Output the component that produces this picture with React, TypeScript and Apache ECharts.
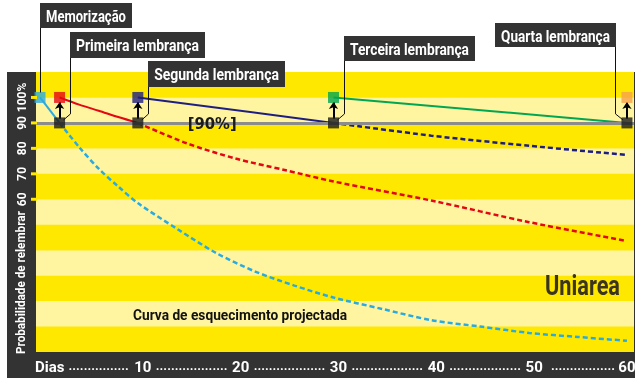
import React, { useEffect, useRef } from 'react';
import * as echarts from 'echarts';

const FONT = 'Roboto, "DejaVu Sans Condensed", sans-serif';
const YELLOW = '#FFE800';
const LIGHT_YELLOW = '#FFF4A0';
const DARK = '#333333';

// ---- data ----
const cyanSolidDays = [0, 2];
const cyanSolidValues = [100, 90];
const cyanDashDays = [2, 4, 6, 8, 10, 14, 18, 22, 26, 30, 35, 40, 45, 50, 55, 60];
const cyanDashValues = [90, 80.5, 72, 65, 58.5, 48.4, 38.9, 31.6, 26.1, 21.4, 16.9, 12.5, 10, 7.5, 5.9, 4.4];
const redSolidDays = [2, 4, 6, 8, 10];
const redSolidValues = [100, 97.2, 94.8, 92.3, 90];
const redDashDays = [10, 15, 20, 25, 30, 40, 50, 60];
const redDashValues = [90, 82, 76, 71.5, 67, 59.5, 51, 43.6];
const navySolidDays = [10, 30];
const navySolidValues = [100, 90];
const navyDashDays = [30, 40, 50, 60];
const navyDashValues = [90, 85, 81, 77.4];
const greenSolidDays = [30, 60];
const greenSolidValues = [100, 90];

const reviewDays = [0, 2, 10, 30, 60];
const reviewLevel = 100;
const reviewColors = ['#29ABE2', '#E30613', '#1E1E82', '#00A651', '#F7A04A'];
const thresholdDays = [2, 10, 30, 60];
const threshold = 90;
const calloutNames = ['Memorização', 'Primeira lembrança', 'Segunda lembrança', 'Terceira lembrança', 'Quarta lembrança'];
const thresholdLabel = '[90%]';
const curveCaption = 'Curva de esquecimento projectada';
const brand = 'Uniarea';

const xTickValues = [10, 20, 30, 40, 50, 60];
const xTitle = 'Dias';
const xTitleAt = 1;
const yTickValues = [60, 70, 80, 90, 100];
const yTitle = 'Probabilidade de relembrar';

// ---- layout of callout boxes (pixels) ----
const calloutBoxes = [
  { x: 40, y: 3, w: 92, h: 25, side: 'left' },
  { x: 70, y: 32, w: 135, h: 26, side: 'left' },
  { x: 148, y: 61, w: 137, h: 26, side: 'left' },
  { x: 344, y: 36, w: 131, h: 25, side: 'left' },
  { x: 495, y: 23, w: 121, h: 24, side: 'right' },
];

const pair = (xs: number[], ys: number[]) => xs.map((x, i) => [x, ys[i]]);

let measureCtx: CanvasRenderingContext2D | null = null;
const measure = (text: string, font: string) => {
  if (!measureCtx) measureCtx = document.createElement('canvas').getContext('2d');
  measureCtx!.font = font;
  return measureCtx!.measureText(text).width || 1;
};

export default function App() {
  const ref = useRef<HTMLDivElement>(null);
  useEffect(() => {
    const el = ref.current!;
    const chart = echarts.init(el, null, { renderer: 'svg' });

    const dotsAt: number[] = xTickValues.map((v, i) => ((i === 0 ? xTitleAt : xTickValues[i - 1]) + v) / 2 + 0.5);
    const dotCounts = [16, 19, 19, 19, 19, 17];

    const line = (xs: number[], ys: number[], color: string, dashed: boolean, smooth: number | boolean = false) => ({
      type: 'line',
      data: pair(xs, ys),
      symbol: 'none',
      smooth,
      silent: true,
      z: 3,
      lineStyle: { color, width: dashed ? 2.5 : 2, type: dashed ? [5, 3] : 'solid' },
    });

    const lbl = { color: '#fff', fontSize: 15, fontWeight: 'bold', fontFamily: FONT };
    const option: any = {
      animation: false,
      grid: { left: 36, right: 7, top: 72, bottom: 38, containLabel: false, outerBoundsMode: 'none' },
      xAxis: {
        type: 'value',
        min: -0.41,
        max: 60.72,
        axisLine: { show: false },
        axisTick: { show: false },
        splitLine: { show: false },
        axisLabel: {
          customValues: [xTitleAt, ...xTickValues, ...dotsAt].sort((a, b) => a - b),
          showMinLabel: true,
          showMaxLabel: true,
          hideOverlap: false,
          margin: 7,
          formatter: (v: number) => {
            if (v === xTitleAt) return `{t|${xTitle}}`;
            if (xTickValues.includes(v)) return v === 60 ? `{n|${v}}` : `{s|${v}}`;
            const i = dotsAt.indexOf(v);
            return `{d|${'.'.repeat(dotCounts[i] || 19)}}`;
          },
          rich: {
            t: { ...lbl },
            n: { ...lbl },
            s: { ...lbl, padding: [0, 0, 0, 10] },
            d: { ...lbl, fontSize: 13 },
          },
        },
      },
      yAxis: {
        type: 'value',
        min: 0,
        max: 110,
        interval: 10,
        axisLine: { show: false },
        splitLine: { show: false },
        splitArea: { show: true, areaStyle: { color: [YELLOW, LIGHT_YELLOW] } },
        axisTick: { show: false },
        axisLabel: {
          customValues: yTickValues,
          rotate: 90,
          margin: 8,
          color: '#fff',
          fontSize: 12,
          fontWeight: 'bold',
          fontFamily: FONT,
          formatter: (v: number) => (v === 100 ? `${v}%` : `${v}`),
        },
      },
      series: [
        {
          type: 'line',
          data: [],
          z: 1,
          silent: true,
          markLine: {
            silent: true,
            symbol: 'none',
            label: { show: false },
            lineStyle: { color: '#8C8C8C', width: 3, type: 'solid' },
            data: [{ yAxis: threshold }],
          },
        },
        line(cyanSolidDays, cyanSolidValues, reviewColors[0], false),
        line(cyanDashDays, cyanDashValues, reviewColors[0], true, 0.3),
        line(redSolidDays, redSolidValues, reviewColors[1], false, 0.3),
        line(redDashDays, redDashValues, reviewColors[1], true, 0.3),
        line(navySolidDays, navySolidValues, reviewColors[2], false),
        line(navyDashDays, navyDashValues, reviewColors[2], true, 0.3),
        line(greenSolidDays, greenSolidValues, reviewColors[3], false),
        {
          type: 'scatter',
          symbol: 'rect',
          symbolSize: 11,
          z: 5,
          silent: true,
          data: thresholdDays.map((d) => [d, threshold]),
          itemStyle: { color: '#1A1A1A' },
          markLine: {
            silent: true,
            symbol: ['none', 'arrow'],
            symbolSize: 7,
            label: { show: false },
            lineStyle: { color: '#000', width: 2, type: 'solid' },
            data: thresholdDays.map((d) => [{ coord: [d, threshold + 1.6] }, { coord: [d, reviewLevel - 1.8] }]),
          },
        },
        {
          type: 'scatter',
          symbol: 'rect',
          symbolSize: 11,
          z: 6,
          silent: true,
          data: reviewDays.map((d, i) => ({ value: [d, reviewLevel], itemStyle: { color: reviewColors[i] } })),
        },
      ],
    };
    chart.setOption(option);

    const toPx = (d: number, v: number) => chart.convertToPixel({ gridIndex: 0 } as any, [d, v]) as number[];
    const y90 = toPx(0, threshold)[1];
    const topLeft = toPx(-0.41, 110);
    const bottomRight = toPx(60.72, 0);
    const x0 = topLeft[0];

    // text fitted to a target width by horizontal scaling
    const fitText = (text: string, font: string, width: number, extra: any) => ({
      type: 'text',
      silent: true,
      scaleX: width / measure(text, font),
      ...extra,
      style: { text, font, ...(extra.style || {}) },
    });

    const graphics: any[] = [
      { type: 'rect', z: -100, silent: true, shape: { x: 7, y: 72, width: 628, height: 306 }, style: { fill: DARK } },
      {
        type: 'rect', z: -99, silent: true,
        shape: { x: topLeft[0], y: topLeft[1], width: bottomRight[0] - topLeft[0], height: bottomRight[1] - topLeft[1] },
        style: { fill: YELLOW },
      },
      fitText(yTitle, 'bold 13px Roboto', 143, {
        x: 21, y: 354, rotation: Math.PI / 2,
        style: { fill: '#fff', align: 'left', verticalAlign: 'middle' },
      }),
    ];
    yTickValues.forEach((v) => {
      const y = toPx(0, v)[1];
      graphics.push({ type: 'line', silent: true, z: 10, shape: { x1: x0 - 5, y1: y, x2: x0 + 1, y2: y }, style: { stroke: YELLOW, lineWidth: 3 } });
    });
    calloutBoxes.forEach((b, i) => {
      const day = reviewDays[i];
      const ax = b.side === 'left' ? b.x + 0.5 : b.x + b.w - 0.5;
      let pts: number[][];
      if (i === 0) {
        const p = toPx(day, reviewLevel);
        pts = [[ax, b.y + b.h], [ax, p[1] - 5]];
      } else {
        const p = toPx(day, threshold);
        const sign = ax > p[0] ? 1 : -1;
        pts = [[ax, b.y + b.h], [ax, y90 - 9], [p[0] + sign * 4, y90 - 3]];
      }
      graphics.push({ type: 'polyline', z: 50, silent: true, shape: { points: pts }, style: { stroke: '#111', lineWidth: 1, fill: 'none' } });
      graphics.push({ type: 'rect', z: 51, silent: true, shape: { x: b.x, y: b.y, width: b.w, height: b.h }, style: { fill: DARK } });
      graphics.push(fitText(calloutNames[i], 'bold 17px Roboto', b.w - 12, {
        z: 52, x: b.x + b.w / 2, y: b.y + b.h / 2 + 1,
        style: { fill: '#fff', align: 'center', verticalAlign: 'middle' },
      }));
    });
    const pLabel = toPx(17.6, threshold);
    graphics.push(fitText(thresholdLabel, 'bold 15px "DejaVu Sans"', 49, {
      z: 40, x: pLabel[0], y: pLabel[1] + 1,
      style: { fill: '#1A1A1A', align: 'center', verticalAlign: 'middle' },
    }));
    graphics.push(fitText(curveCaption, 'bold 14px Roboto', 214, {
      z: 40, x: 133, y: 315,
      style: { fill: '#111', align: 'left', verticalAlign: 'middle' },
    }));
    graphics.push(fitText(brand, 'bold 28px Roboto', 75, {
      z: 40, x: 620, y: 286,
      style: { fill: '#3A3420', align: 'right', verticalAlign: 'middle' },
    }));
    chart.setOption({ graphic: graphics });

    return () => chart.dispose();
  }, []);
  return <div ref={ref} style={{ position: 'fixed', left: 0, top: 0, width: 641, height: 390 }} />;
}
